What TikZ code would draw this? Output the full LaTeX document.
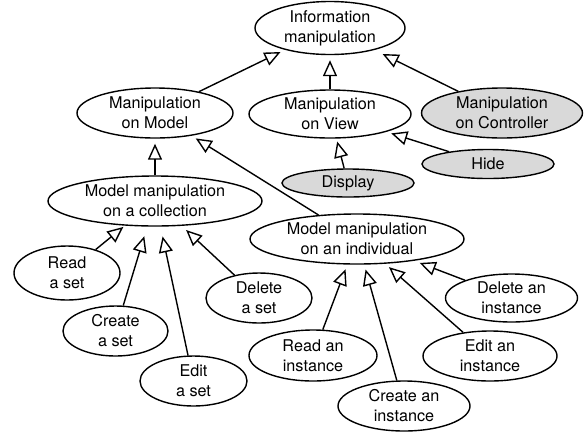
\documentclass[tikz,border=0pt]{standalone}
\usepackage{fontspec}
\setmainfont{TeX Gyre Heros}
\usetikzlibrary{shapes.geometric,arrows.meta}
\tikzset{
  ell/.style={ellipse, draw, line width=1.4pt, inner sep=0pt, align=center, fill=white,
    font=\fontsize{16.2}{20}\selectfont},
  grayell/.style={ell, fill=black!15},
  gen/.style={-{Triangle[open,length=16pt,width=14pt]}, line width=1.4pt, shorten >=5pt}
}
\begin{document}
\begin{tikzpicture}[x=1pt,y=-1pt]
\useasboundingbox (0,0) rectangle (585,432);
\node[ell, minimum width=150pt, minimum height=53pt] (info) at (330,28) {Information\\manipulation};
\node[ell, minimum width=156pt, minimum height=50pt] (model) at (155,113) {Manipulation\\on Model};
\node[ell, minimum width=162pt, minimum height=48pt] (view) at (330,114) {Manipulation\\on View};
\node[grayell, minimum width=161pt, minimum height=50pt] (ctrl) at (502,113) {Manipulation\\on Controller};
\node[grayell, minimum width=132pt, minimum height=29pt] (hide) at (488,164) {Hide};
\node[grayell, minimum width=132pt, minimum height=28pt] (display) at (348,183) {Display};
\node[ell, minimum width=214pt, minimum height=50pt] (coll) at (155,201) {Model manipulation\\on a collection};
\node[ell, minimum width=214pt, minimum height=50pt] (indiv) at (357,239) {Model manipulation\\on an individual};
\node[ell, minimum width=106pt, minimum height=54pt] (readset) at (67,273) {Read\\a set};
\node[ell, minimum width=105pt, minimum height=50pt] (createset) at (115.5,331) {Create\\a set};
\node[ell, minimum width=107pt, minimum height=50pt] (editset) at (193.5,381) {Edit\\a set};
\node[ell, minimum width=106pt, minimum height=50pt] (delset) at (259,298) {Delete\\a set};
\node[ell, minimum width=128pt, minimum height=51pt] (readinst) at (313,355.5) {Read an\\instance};
\node[ell, minimum width=132pt, minimum height=50pt] (createinst) at (404,406) {Create an\\instance};
\node[ell, minimum width=134pt, minimum height=50pt] (editinst) at (490,356) {Edit an\\instance};
\node[ell, minimum width=132pt, minimum height=48pt] (delinst) at (511.5,298) {Delete an\\instance};

\draw[gen] (model) -- (info);
\draw[gen] (view) -- (info);
\draw[gen, shorten >=9pt] (ctrl) -- (info);
\draw[gen, shorten >=3pt] (display) -- (view);
\draw[gen] (hide) -- (view);
\draw[gen] (coll) -- (model);
\draw[gen] (indiv) -- (model);
\draw[gen, shorten >=2pt] (readset) -- (coll);
\draw[gen, shorten >=10pt] (createset) -- (coll);
\draw[gen, shorten >=10pt] (editset) -- (coll);
\draw[gen, shorten >=6pt] (delset) -- (coll);
\draw[gen] (readinst) -- (indiv);
\draw[gen] (createinst) -- (indiv);
\draw[gen] (editinst) -- (indiv);
\draw[gen, shorten >=6pt] (delinst) -- (indiv);
\end{tikzpicture}
\end{document}
